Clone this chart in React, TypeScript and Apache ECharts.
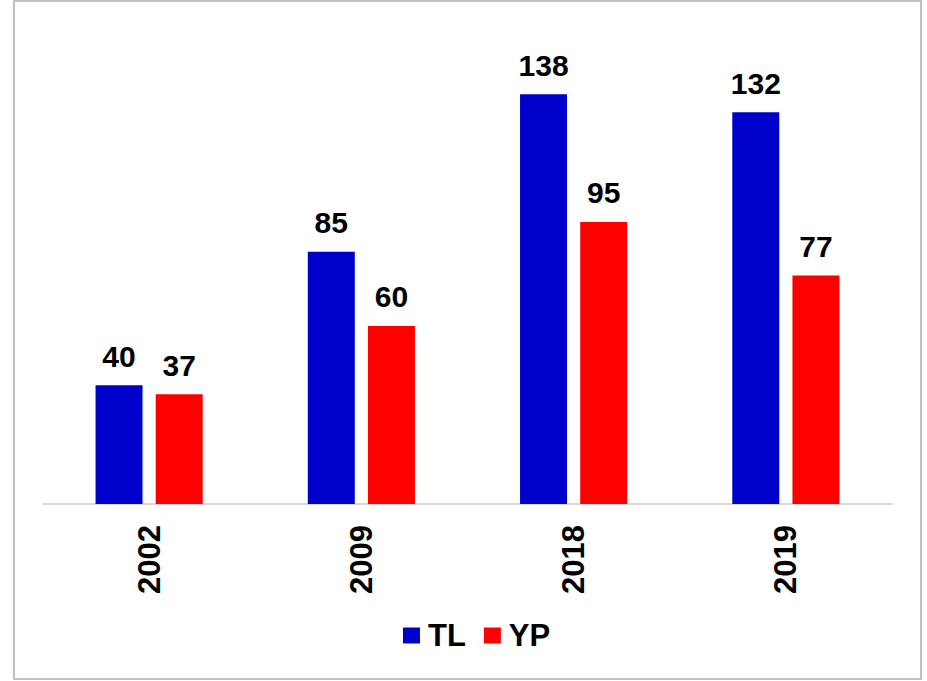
import React, { useEffect, useRef } from "react";
import * as echarts from "echarts";

const categories = ["2002", "2009", "2018", "2019"];
const tlValues = [40, 85, 138, 132];
const ypValues = [37, 60, 95, 77];

export default function App() {
  const ref = useRef<HTMLDivElement>(null);
  useEffect(() => {
    if (!ref.current) return;
    const chart = echarts.init(ref.current, null, { renderer: "svg" });
    const labelStyle = {
      show: true,
      position: "top" as const,
      distance: 14,
      fontFamily: "Liberation Sans, Arial, sans-serif",
      fontWeight: "bold" as const,
      fontSize: 30,
      color: "#000",
    };
    chart.setOption({
      animation: false,
      backgroundColor: "#fff",
      graphic: [
        {
          type: "rect",
          shape: { x: 14, y: 1, width: 907, height: 678 },
          style: { fill: "none", stroke: "#c0c0c0", lineWidth: 2 },
          silent: true,
        },
      ],
      grid: { left: 43, right: 35, top: 29, bottom: 177 },
      legend: {
        bottom: 25,
        left: 398,
        itemWidth: 17,
        itemHeight: 16,
        itemGap: 18,
        icon: "rect",
        textStyle: {
          fontFamily: "Liberation Sans, Arial, sans-serif",
          fontWeight: "bold",
          fontSize: 31,
          color: "#000",
          padding: [0, 0, 0, 3],
        },
        data: ["TL", "YP"],
      },
      xAxis: {
        type: "category",
        data: categories,
        axisLine: { lineStyle: { color: "#d9d9d9", width: 2 } },
        axisTick: { show: false },
        axisLabel: {
          rotate: 90,
          margin: 21,
          fontFamily: "Liberation Sans, Arial, sans-serif",
          fontWeight: "bold",
          fontSize: 31,
          color: "#000",
        },
      },
      yAxis: {
        type: "value",
        min: 0,
        max: 160,
        show: false,
        splitLine: { show: false },
      },
      series: [
        {
          name: "TL",
          type: "bar",
          data: tlValues,
          barWidth: 47,
          barGap: "28%",
          itemStyle: { color: "#0000CC" },
          label: labelStyle,
        },
        {
          name: "YP",
          type: "bar",
          data: ypValues,
          barWidth: 47,
          itemStyle: { color: "#FF0000" },
          label: labelStyle,
        },
      ],
    });
    return () => chart.dispose();
  }, []);
  return (
    <div
      ref={ref}
      style={{ position: "absolute", left: 0, top: 0, width: 927, height: 681 }}
    />
  );
}
